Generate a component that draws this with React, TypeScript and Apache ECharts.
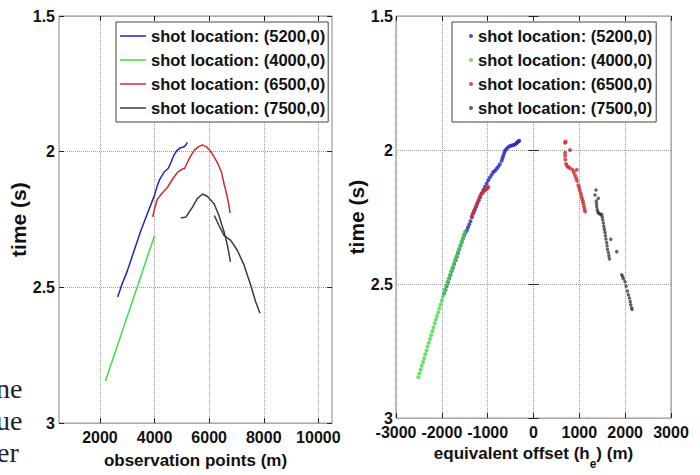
import React, { useEffect, useRef } from "react";
import * as echarts from "echarts";

// ---------- labels ----------
const legendLabels = [
  "shot location: (5200,0)",
  "shot location: (4000,0)",
  "shot location: (6500,0)",
  "shot location: (7500,0)",
];
const seriesColors = ["#2323c4", "#45d945", "#d02a2a", "#3c3c3c"];
const obsTicks = [2000, 4000, 6000, 8000, 10000];
const fragments = ["ne", "ue", "er"];

// ---------- left panel: time vs observation point ----------
const blueObsX = [2650, 2800, 3000, 3250, 3500, 3750, 4000, 4100, 4200, 4350, 4500, 4600, 4700, 4800, 4950, 5050, 5150, 5200];
const blueObsT = [2.535, 2.49, 2.44, 2.365, 2.29, 2.225, 2.16, 2.125, 2.1, 2.075, 2.062, 2.04, 2.015, 1.998, 1.985, 1.984, 1.975, 1.966];

const greenObsX = [2200, 2600, 3000, 3400, 3800, 4000];
const greenObsT = [2.845, 2.726, 2.607, 2.488, 2.369, 2.31];

const redObsX = [3930, 4000, 4100, 4300, 4480, 4700, 4850, 5000, 5100, 5200, 5300, 5450, 5600, 5750, 5900, 6100, 6300, 6450, 6550, 6650, 6700, 6770];
const redObsT = [2.24, 2.21, 2.175, 2.15, 2.13, 2.095, 2.075, 2.065, 2.062, 2.04, 2.02, 1.995, 1.982, 1.975, 1.982, 2.005, 2.04, 2.075, 2.12, 2.16, 2.185, 2.225];

const blackObsXa = [4960, 5150, 5250, 5390, 5570, 5760, 5940, 6180, 6360, 6450, 6550, 6670, 6780];
const blackObsTa = [2.244, 2.241, 2.225, 2.204, 2.172, 2.156, 2.165, 2.192, 2.235, 2.265, 2.296, 2.345, 2.406];
const blackObsXb = [6190, 6360, 6545, 6790, 7030, 7280, 7520, 7700, 7860];
const blackObsTb = [2.235, 2.272, 2.308, 2.327, 2.363, 2.418, 2.491, 2.552, 2.595];

// ---------- right panel: time vs equivalent offset ----------
const blueOffX = [-1950, -1922, -1895, -1868, -1840, -1812, -1785, -1758, -1730, -1702, -1675, -1648, -1620, -1592, -1565, -1538, -1510, -1484, -1457,
  -1430, -1402, -1375, -1345, -1313, -1285, -1255, -1225, -1195, -1165, -1130, -1095,
  -1060, -1022, -986, -950, -913, -877, -840, -803, -770, -735, -694,
  -676, -658, -640, -621, -590, -555, -512, -475, -440, -403, -375, -353, -330, -310];
const blueOffT = [2.535, 2.521, 2.507, 2.493, 2.479, 2.466, 2.452, 2.439, 2.425, 2.411, 2.398, 2.384, 2.37, 2.356, 2.343, 2.33, 2.318, 2.308, 2.3,
  2.289, 2.278, 2.266, 2.251, 2.235, 2.224, 2.212, 2.2, 2.188, 2.176, 2.162, 2.149,
  2.137, 2.125, 2.113, 2.102, 2.092, 2.082, 2.077, 2.07, 2.062, 2.053, 2.04,
  2.03, 2.021, 2.011, 2.003, 1.996, 1.99, 1.985, 1.983, 1.981, 1.979, 1.975, 1.972, 1.967, 1.965];

const greenOffX = [-2513, -2488, -2462, -2437, -2411, -2386, -2360, -2335, -2309, -2284, -2258, -2233, -2207, -2182, -2156, -2131, -2105, -2080, -2054, -2029, -2003,
  -1978, -1952, -1927, -1901, -1876, -1850, -1825, -1799, -1774, -1748, -1723, -1697, -1672, -1646, -1621, -1595, -1570, -1544, -1519, -1494];
const greenOffT = [2.848, 2.834, 2.819, 2.805, 2.791, 2.777, 2.762, 2.748, 2.733, 2.719, 2.705, 2.691, 2.676, 2.662, 2.647, 2.633, 2.619, 2.605, 2.59, 2.576, 2.561,
  2.547, 2.533, 2.519, 2.504, 2.491, 2.479, 2.466, 2.454, 2.441, 2.429, 2.417, 2.404, 2.392, 2.379, 2.367, 2.354, 2.342, 2.329, 2.317, 2.305];

const redOffX = [-1348, -1325, -1300, -1275, -1250, -1225, -1200, -1175, -1150, -1120, -1090, -1060, -1030, -1000, -986,
  688, 700, 797, 690, 688, 695, 710, 735, 760, 800, 856, 943, 880, 906, 930, 950, 979, 995, 1010, 1030, 1045, 1060, 1075, 1087, 1100, 1112, 1124];
const redOffT = [2.247, 2.238, 2.228, 2.218, 2.208, 2.197, 2.186, 2.175, 2.167, 2.16, 2.155, 2.15, 2.146, 2.142, 2.138,
  1.973, 1.968, 2.0, 2.01, 2.021, 2.035, 2.052, 2.06, 2.064, 2.068, 2.074, 2.074, 2.083, 2.094, 2.105, 2.115, 2.131, 2.14, 2.15, 2.162, 2.172, 2.182, 2.191, 2.199, 2.21, 2.22, 2.229];

const blackOffX = [1364, 1342, 1415, 1370, 1375, 1379, 1390, 1405, 1415, 1440, 1465, 1488, 1500, 1510, 1525, 1535, 1545, 1561, 1570, 1580, 1597, 1605, 1615, 1634, 1645, 1656, 1685, 1816,
  1925, 1945, 1960, 1997, 2020, 2048, 2070, 2092, 2110, 2121, 2140, 2150];
const blackOffT = [2.149, 2.168, 2.18, 2.19, 2.2, 2.211, 2.222, 2.23, 2.235, 2.238, 2.24, 2.241, 2.25, 2.26, 2.272, 2.284, 2.296, 2.308, 2.32, 2.332, 2.345, 2.357, 2.37, 2.382, 2.394, 2.406, 2.333, 2.379,
  2.465, 2.472, 2.48, 2.491, 2.508, 2.526, 2.54, 2.552, 2.565, 2.577, 2.588, 2.595];

const zip = (xs: number[], ys: number[]) => xs.slice(0, Math.min(xs.length, ys.length)).map((x, i) => [x, ys[i]]);

const FONT = "'Liberation Sans', Arial, Helvetica, sans-serif";
const TXT = "#111";

export default function App() {
  const ref = useRef<HTMLDivElement>(null);

  useEffect(() => {
    document.body.style.margin = "0";
    if (!ref.current) return;
    const chart = echarts.init(ref.current, undefined, { renderer: "svg" });

    const plain = (v: number) => String(v);
    const labelStyle = {
      fontSize: 16,
      fontWeight: "bold" as const,
      fontFamily: FONT,
      color: TXT,
      formatter: plain,
      showMinLabel: true,
      showMaxLabel: true,
      hideOverlap: false,
    };
    const tick = { show: true, inside: true, length: 5, lineStyle: { color: "#222", width: 1 } };
    const split = { show: true, lineStyle: { color: "#9a9a9a", type: "dotted" as const, width: 1 } };

    const yBase = (grid: number) => ({
      gridIndex: grid,
      type: "value" as const,
      min: 1.5,
      max: 3,
      interval: 0.5,
      inverse: true,
    });
    const xLeft = { gridIndex: 0, type: "value" as const, min: 500, max: 10500 };
    const xRight = { gridIndex: 1, type: "value" as const, min: -3000, max: 3000, interval: 1000 };

    const nameStyle = { fontSize: 17, fontWeight: "bold" as const, fontFamily: FONT, color: TXT };
    const yNameStyle = { fontSize: 21, fontWeight: "bold" as const, fontFamily: FONT, color: TXT };

    const fmtMap: Record<string, string> = {
      A1: legendLabels[0], A2: legendLabels[1], A3: legendLabels[2], A4: legendLabels[3],
      B1: legendLabels[0], B2: legendLabels[1], B3: legendLabels[2], B4: legendLabels[3],
    };
    const legendText = { fontSize: 16.5, fontWeight: "bold" as const, fontFamily: FONT, color: TXT, lineHeight: 20 };

    const option: any = {
      animation: false,
      backgroundColor: "#fff",
      grid: [
        { left: 59, top: 16, width: 273, height: 409, show: true, borderColor: "#888", borderWidth: 1, backgroundColor: "transparent" },
        { left: 396, top: 16, width: 275, height: 409, show: true, borderColor: "#888", borderWidth: 1, backgroundColor: "transparent" },
      ],
      xAxis: [
        {
          ...xLeft,
          position: "bottom",
          axisLine: { show: false },
          axisTick: { ...tick, customValues: obsTicks },
          axisLabel: { ...labelStyle, margin: 6, customValues: obsTicks },
          splitLine: split,
          name: "observation points (m)",
          nameLocation: "middle",
          nameGap: 26,
          nameTextStyle: { ...nameStyle, verticalAlign: "top", lineHeight: 20 },
        },
        {
          ...xRight,
          position: "bottom",
          axisLine: { show: false },
          axisTick: tick,
          axisLabel: { ...labelStyle, margin: 6 },
          splitLine: split,
          name: "{m|equivalent offset (h}{sub|e}{m|) (m)}",
          nameLocation: "middle",
          nameGap: 26,
          nameTextStyle: {
            ...nameStyle,
            verticalAlign: "top",
            rich: {
              m: { ...nameStyle, lineHeight: 20, verticalAlign: "top" },
              sub: { fontSize: 12, fontWeight: "bold", fontFamily: FONT, color: TXT, lineHeight: 12, verticalAlign: "top", padding: [13, 0, 0, 0] },
            },
          },
        },
        { ...xLeft, position: "top", axisLine: { show: false }, axisTick: { ...tick, customValues: obsTicks }, axisLabel: { show: false, customValues: obsTicks }, splitLine: { show: false } },
        { ...xRight, position: "top", axisLine: { show: false }, axisTick: tick, axisLabel: { show: false }, splitLine: { show: false } },
      ],
      yAxis: [
        {
          ...yBase(0),
          position: "left",
          axisLine: { show: false },
          axisTick: tick,
          axisLabel: { ...labelStyle, margin: 4 },
          splitLine: split,
          name: "time (s)",
          nameLocation: "middle",
          nameRotate: 90,
          nameGap: 25,
          nameTextStyle: yNameStyle,
        },
        {
          ...yBase(1),
          position: "left",
          axisLine: { show: false },
          axisTick: tick,
          axisLabel: { ...labelStyle, margin: 3 },
          splitLine: split,
          name: "time (s)",
          nameLocation: "middle",
          nameRotate: 90,
          nameGap: 26,
          nameTextStyle: yNameStyle,
        },
        { ...yBase(0), position: "right", axisLine: { show: false }, axisTick: tick, axisLabel: { show: false }, splitLine: { show: false } },
        { ...yBase(1), position: "right", axisLine: { show: false }, axisTick: tick, axisLabel: { show: false }, splitLine: { show: false } },
      ],
      legend: [
        {
          left: 116,
          top: 22,
          orient: "vertical",
          data: ["A1", "A2", "A3", "A4"],
          formatter: (n: string) => fmtMap[n] || n,
          selectedMode: false,
          icon: "rect",
          itemWidth: 26,
          itemHeight: 1.5,
          itemGap: 4,
          itemTextGap: 3,
          padding: [4, 3, 4, 4],
          borderColor: "#444",
          borderWidth: 1,
          borderRadius: 0,
          backgroundColor: "#fff",
          textStyle: legendText,
        },
        {
          left: 452,
          top: 22,
          orient: "vertical",
          data: ["B1", "B2", "B3", "B4"],
          formatter: (n: string) => fmtMap[n] || n,
          selectedMode: false,
          icon: "circle",
          itemWidth: 4,
          itemHeight: 4,
          itemGap: 4,
          itemTextGap: 14,
          padding: [4, 4, 4, 17],
          borderColor: "#444",
          borderWidth: 1,
          borderRadius: 0,
          backgroundColor: "#fff",
          textStyle: legendText,
        },
      ],
      series: [
        { name: "A1", type: "line", xAxisIndex: 0, yAxisIndex: 0, symbol: "none", color: seriesColors[0], lineStyle: { width: 1.5 }, data: zip(blueObsX, blueObsT) },
        { name: "A2", type: "line", xAxisIndex: 0, yAxisIndex: 0, symbol: "none", color: seriesColors[1], lineStyle: { width: 1.5 }, data: zip(greenObsX, greenObsT) },
        { name: "A3", type: "line", xAxisIndex: 0, yAxisIndex: 0, symbol: "none", color: seriesColors[2], lineStyle: { width: 1.5 }, data: zip(redObsX, redObsT) },
        { name: "A4", type: "line", xAxisIndex: 0, yAxisIndex: 0, symbol: "none", color: seriesColors[3], lineStyle: { width: 1.5 }, data: zip(blackObsXa, blackObsTa) },
        { name: "A4b", type: "line", xAxisIndex: 0, yAxisIndex: 0, symbol: "none", color: seriesColors[3], lineStyle: { width: 1.5 }, data: zip(blackObsXb, blackObsTb) },
        { name: "B1", type: "scatter", xAxisIndex: 1, yAxisIndex: 1, symbolSize: 4, color: seriesColors[0], data: zip(blueOffX, blueOffT) },
        { name: "B2", type: "scatter", xAxisIndex: 1, yAxisIndex: 1, symbolSize: 4, color: seriesColors[1], data: zip(greenOffX, greenOffT) },
        { name: "B3", type: "scatter", xAxisIndex: 1, yAxisIndex: 1, symbolSize: 4, color: seriesColors[2], data: zip(redOffX, redOffT) },
        { name: "B4", type: "scatter", xAxisIndex: 1, yAxisIndex: 1, symbolSize: 3.5, color: seriesColors[3], data: zip(blackOffX, blackOffT) },
      ],
      graphic: fragments.map((t, i) => ({
        type: "text",
        x: i === 2 ? -3 : -4,
        y: 388 + i * 32,
        silent: true,
        style: { text: t, fontSize: 28, fontFamily: "'Liberation Serif', 'Times New Roman', serif", fill: "#222", verticalAlign: "middle", align: "left" },
      })),
    };

    chart.setOption(option);
    return () => chart.dispose();
  }, []);

  return <div ref={ref} style={{ width: 700, height: 475 }} />;
}
